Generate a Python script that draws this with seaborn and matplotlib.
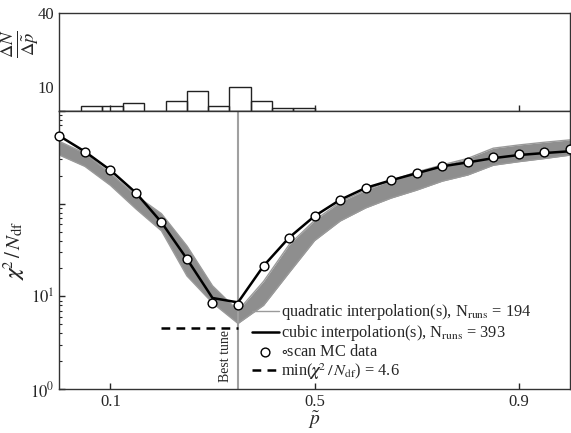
# Scan du paramètre p~ : chi2/Ndf et distribution des meilleurs tunes

import numpy as np
import pandas as pd
import seaborn as sns
import matplotlib
matplotlib.use("Agg")
import matplotlib.pyplot as plt
from matplotlib.ticker import LogLocator, NullFormatter, FixedLocator

# Données
p_scan = [0.0, 0.05, 0.1, 0.15, 0.2, 0.25, 0.3, 0.35, 0.4, 0.45, 0.5,
          0.55, 0.6, 0.65, 0.7, 0.75, 0.8, 0.85, 0.9, 0.95, 1.0]
chi2_scan = [539, 365, 230, 131, 63, 25.3, 8.4, 8.1, 21.3, 43, 73.5,
             110, 148, 179, 213, 253, 281, 319, 347, 365, 393]
chi2_cubic = [539, 365, 230, 131, 63, 25.3, 9.6, 8.6, 21.3, 43, 73.5,
              110, 148, 179, 213, 253, 279, 310, 335, 352, 368]
quad_hi = [470, 350, 212, 123, 78, 35, 13, 7.0, 14.5, 36, 66,
           104, 140, 178, 220, 262, 308, 397, 430, 460, 488]
quad_lo = [335, 253, 158, 88, 51, 16.6, 8.5, 5.1, 8.0, 18, 40,
           65, 90, 115, 140, 175, 204, 260, 284, 307, 334]

hist_edges = [0.0, 0.0417, 0.0833, 0.125, 0.1667, 0.2083, 0.25,
              0.2917, 0.3333, 0.375, 0.4167, 0.4583, 0.5]
hist_heights = [0, 2, 2, 3.1, 0, 4.2, 8.2, 2, 10, 4.2, 1.1, 1.1]

best_tune = 0.35
min_chi2 = 4.6
n_quad = 194
n_cubic = 393

df = pd.DataFrame({"p": p_scan, "scan": chi2_scan, "cubic": chi2_cubic,
                   "lo": quad_lo, "hi": quad_hi})
centers = [(a + b) / 2 for a, b in zip(hist_edges[:-1], hist_edges[1:])]

# Style
sns.set_theme(style="ticks")
plt.rcParams["font.family"] = ["Liberation Serif", "DejaVu Serif"]
plt.rcParams["mathtext.fontset"] = "stix"
plt.rcParams["xtick.direction"] = "in"
plt.rcParams["ytick.direction"] = "in"
plt.rcParams["axes.edgecolor"] = "#333333"
plt.rcParams["axes.linewidth"] = 1.0

fig = plt.figure(figsize=(5.71, 4.33), dpi=100)
ax_h = fig.add_axes([0.1039, 0.7436, 0.8941, 0.2264])
ax = fig.add_axes([0.1039, 0.1016, 0.8941, 0.6420], sharex=ax_h)

# Panneau du haut : histogramme
sns.histplot(x=centers, weights=hist_heights, bins=hist_edges, fill=False,
             element="bars", color="#222222", linewidth=1.0, ax=ax_h)
ax_h.set_ylim(0, 40)
ax_h.set_yticks([10, 40])
ax_h.set_ylabel("")
fig.text(0.036, 0.90, r"$\frac{\Delta N}{\Delta \tilde{p}}$", fontsize=19,
         rotation=90, ha="center", va="center")
ax_h.tick_params(axis="x", labelbottom=False, length=4, width=1)
ax_h.tick_params(axis="y", labelsize=12, length=0)

# Panneau du bas : chi2 / Ndf
ax.fill_between(df["p"], df["lo"], df["hi"], color="#8e8e8e", lw=0)
sns.lineplot(data=df, x="p", y="hi", color="#9a9a9a", lw=1.0, ax=ax,
             label=rf"quadratic interpolation(s), N$_\mathrm{{runs}}$ = {n_quad}")
sns.lineplot(data=df, x="p", y="lo", color="#9a9a9a", lw=1.0, ax=ax)
sns.lineplot(data=df, x="p", y="cubic", color="black", lw=1.8, ax=ax,
             label=rf"cubic interpolation(s), N$_\mathrm{{runs}}$ = {n_cubic}")
sns.scatterplot(data=df, x="p", y="scan", s=40, color="white",
                edgecolor="black", linewidth=1.0, zorder=5, clip_on=False,
                ax=ax, label=r"$\circ$scan MC data")
ax.plot([0.2, best_tune], [min_chi2, min_chi2], color="black", lw=1.8,
        ls=(0, (3.5, 2.5)),
        label=rf"min($\boldsymbol{{\chi}}^2\,/\,N_\mathrm{{df}}$) = {min_chi2}")
ax.axvline(best_tune, color="#a0a0a0", lw=1.5, zorder=1)
ax.text(best_tune - 0.024, 2.28, "Best tune", rotation=90, ha="center",
        va="center", fontsize=10)

ax.set_yscale("log")
ax.set_ylim(1, 1000)
ax.set_xlim(0, 1)
ax.set_xticks([0.1, 0.5, 0.9])
ax.set_xticklabels(["0.1", "0.5", "0.9"])
ax.yaxis.set_major_locator(FixedLocator([1, 10, 100, 1000]))
ax.set_yticklabels([r"$10^0$", r"$10^1$", "", ""])
ax.yaxis.set_minor_locator(LogLocator(base=10, subs=np.arange(2, 10)))
ax.yaxis.set_minor_formatter(NullFormatter())
ax.tick_params(axis="both", which="major", labelsize=12, length=4, width=1)
ax.tick_params(axis="y", which="minor", length=2.5, width=0.8)
ax.set_xlabel(r"$\tilde{p}$", fontsize=14, labelpad=0)
ax.set_ylabel(r"$\boldsymbol{\chi}^2\,/\,N_\mathrm{df}$", fontsize=15,
              labelpad=2)

ax.legend(loc="center left", bbox_to_anchor=(0.378, 0.169), frameon=False,
          fontsize=11.8, handlelength=1.6, handletextpad=0.15,
          labelspacing=0.05, borderpad=0, borderaxespad=0)

fig.savefig("out.png", dpi=100)
